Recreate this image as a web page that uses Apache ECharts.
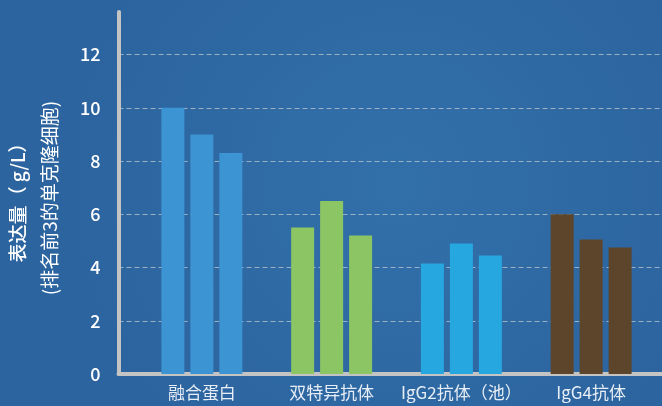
<!DOCTYPE html>
<html>
<head>
<meta charset="utf-8">
<style>
  html, body { margin: 0; padding: 0; }
  #main { width: 662px; height: 406px; }
</style>
<script src="https://cdn.jsdelivr.net/npm/echarts@6/dist/echarts.min.js"></script>
</head>
<body>
<div id="main"></div>
<script>
// 数据
var categories = ['融合蛋白', '双特异抗体', 'IgG2抗体（池）', 'IgG4抗体'];
var rank1 = [10.0, 5.5, 4.15, 6.0];
var rank2 = [9.0, 6.5, 4.9, 5.05];
var rank3 = [8.3, 5.2, 4.45, 4.75];
var groupColors = ['#3d94d3', '#8cc563', '#27a7e0', '#5c452a'];
var yTicks = [0, 2, 4, 6, 8, 10, 12];

(function () {
    var myChart = echarts.init(document.getElementById('main'));
    var font = '"Noto Sans CJK SC", "Noto Sans", sans-serif';
    var axisGray = '#c4c4c4';
    var yMax = 13.6;

    function makeBar(name, data) {
        return {
            name: name,
            type: 'bar',
            xAxisIndex: 0,
            yAxisIndex: 0,
            barWidth: 23,
            barGap: '26%',
            data: data,
            itemStyle: {
                color: function (p) { return groupColors[p.dataIndex]; }
            }
        };
    }

    // 最后一条(顶端)分隔线透明
    var splitColors = yTicks.map(function () { return 'rgba(190,200,210,0.75)'; });
    splitColors.push('rgba(0,0,0,0)');

    var option = {
        backgroundColor: {
            type: 'radial', x: 0.6, y: 0.45, r: 0.8,
            colorStops: [
                { offset: 0, color: '#3270aa' },
                { offset: 1, color: '#2c649f' }
            ]
        },
        textStyle: { fontFamily: font },
        grid: [
            { left: 137, right: 6, top: 12, bottom: 32 },
            { left: 117, right: 0, top: 12, bottom: 32 }
        ],
        xAxis: [
            {
                type: 'category',
                gridIndex: 0,
                data: categories,
                axisLine: { show: false },
                axisTick: { show: false },
                axisLabel: { color: '#e8eef6', fontSize: 17, margin: 10, interval: 0, fontFamily: font }
            },
            {
                type: 'value',
                gridIndex: 1,
                axisLine: { show: true, lineStyle: { color: axisGray, width: 4 } },
                axisTick: { show: false },
                axisLabel: { show: false },
                splitLine: { show: false }
            }
        ],
        yAxis: [
            {
                type: 'value',
                gridIndex: 0,
                min: 0,
                max: yMax,
                show: false
            },
            {
                type: 'value',
                gridIndex: 1,
                min: 0,
                max: yMax,
                interval: 2,
                axisLine: { show: true, lineStyle: { color: axisGray, width: 4 } },
                axisTick: { show: false },
                axisLabel: {
                    color: '#ffffff', fontSize: 18, margin: 18, fontWeight: 500,
                    showMaxLabel: false,
                    formatter: function (v) { return yTicks.indexOf(v) >= 0 ? String(v) : ''; }
                },
                splitLine: {
                    show: true,
                    lineStyle: { color: splitColors, type: [5, 3], width: 1 }
                },
                name: '{a|表达量（ g/L）}\n{b|(排名前3的单克隆细胞)}',
                nameLocation: 'middle',
                nameRotate: 90,
                nameGap: 53,
                nameTextStyle: {
                    color: '#ffffff',
                    fontSize: 19,
                    fontFamily: font,
                    padding: [0, 10, 0, 0],
                    rich: {
                        a: { fontSize: 19, fontWeight: 500, color: '#ffffff', lineHeight: 32, fontFamily: font },
                        b: { fontSize: 19, color: '#ffffff', lineHeight: 32, fontFamily: font }
                    }
                }
            }
        ],
        series: [
            makeBar('第1', rank1),
            makeBar('第2', rank2),
            makeBar('第3', rank3)
        ]
    };
    myChart.setOption(option);
})();
</script>
</body>
</html>
